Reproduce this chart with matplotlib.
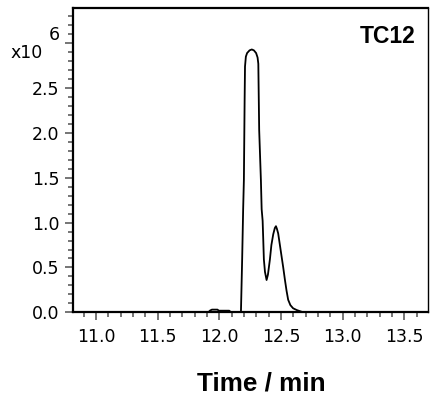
import matplotlib
matplotlib.use("Agg")
import matplotlib.pyplot as plt
from matplotlib import font_manager as fm
from matplotlib.ticker import MultipleLocator, FuncFormatter

# Data (intensity in units of 1e6)
time_min = [10.80, 11.910, 11.925, 11.940, 11.985, 11.995, 12.080, 12.095,
            12.175, 12.185, 12.193, 12.199, 12.205, 12.208, 12.215, 12.225,
            12.245, 12.263, 12.280, 12.298, 12.310, 12.316, 12.323, 12.337,
            12.343, 12.351, 12.356, 12.361, 12.370, 12.383, 12.394, 12.410,
            12.422, 12.437, 12.450, 12.459, 12.467, 12.477, 12.491, 12.505,
            12.518, 12.532, 12.545, 12.558, 12.576, 12.598, 12.628, 12.680, 13.70]
intensity = [0, 0, 0.020, 0.030, 0.030, 0.018, 0.018, 0,
             0, 0.60, 1.15, 1.48, 2.38, 2.74, 2.85, 2.89,
             2.92, 2.93, 2.92, 2.89, 2.84, 2.77, 2.03, 1.47,
             1.15, 1.02, 0.81, 0.59, 0.45, 0.36, 0.42, 0.59,
             0.75, 0.87, 0.94, 0.96, 0.93, 0.88, 0.75, 0.62,
             0.50, 0.36, 0.24, 0.14, 0.08, 0.045, 0.025, 0, 0]

label_text = "TC12"
xlabel_text = "Time / min"

# find regular-width Liberation Sans Bold
bold_path = None
for f in fm.fontManager.ttflist:
    if f.name == "Liberation Sans" and f.weight in (700, "bold") and f.style == "normal" \
            and "Narrow" not in f.fname:
        bold_path = f.fname
        break
if bold_path:
    def bfont(size):
        return fm.FontProperties(fname=bold_path, size=size)
else:
    def bfont(size):
        return fm.FontProperties(family="DejaVu Sans", weight="bold", size=size)

fig = plt.figure(figsize=(4.43, 3.98), dpi=100)
ax = fig.add_axes([0.164, 0.2153, 0.8015, 0.7657])

ax.plot(time_min, intensity, color="black", lw=1.3)
ax.set_xlim(10.81, 13.69)
ax.set_ylim(0, 3.397)

ax.xaxis.set_major_locator(MultipleLocator(0.5))
ax.xaxis.set_minor_locator(MultipleLocator(0.1))
ax.yaxis.set_major_locator(MultipleLocator(0.5))
ax.yaxis.set_minor_locator(MultipleLocator(0.1))
ax.xaxis.set_major_formatter(FuncFormatter(lambda v, p: f"{v:.1f}"))
ax.yaxis.set_major_formatter(FuncFormatter(lambda v, p: "" if v > 2.75 else f"{v:.1f}"))

tc = "#6a6a6a"
ax.tick_params(axis="both", which="major", direction="out", length=6, width=1.3,
               color=tc, labelsize=12.5, labelcolor="black")
ax.tick_params(axis="both", which="minor", direction="out", length=3.5, width=1.3,
               color=tc)
ax.tick_params(axis="x", which="major", pad=5)
ax.tick_params(axis="y", which="major", pad=3.5)
ax.tick_params(top=False, right=False, which="both")

for s in ["left", "bottom", "top"]:
    ax.spines[s].set_linewidth(1.6)
ax.spines["right"].set_linewidth(1.0)
for s in ax.spines.values():
    s.set_color("black")

fig.text(0.0248, 0.8535, "x10", fontsize=12.5, va="baseline", ha="left")
fig.text(0.111, 0.8995, "6", fontsize=12.5, va="baseline", ha="left")

fig.text(0.9368, 0.8927, label_text, fontproperties=bfont(16.5),
         ha="right", va="baseline")
fig.text(0.5907, 0.0201, xlabel_text, fontproperties=bfont(18.8),
         ha="center", va="baseline")

fig.savefig("out.png", dpi=100)
